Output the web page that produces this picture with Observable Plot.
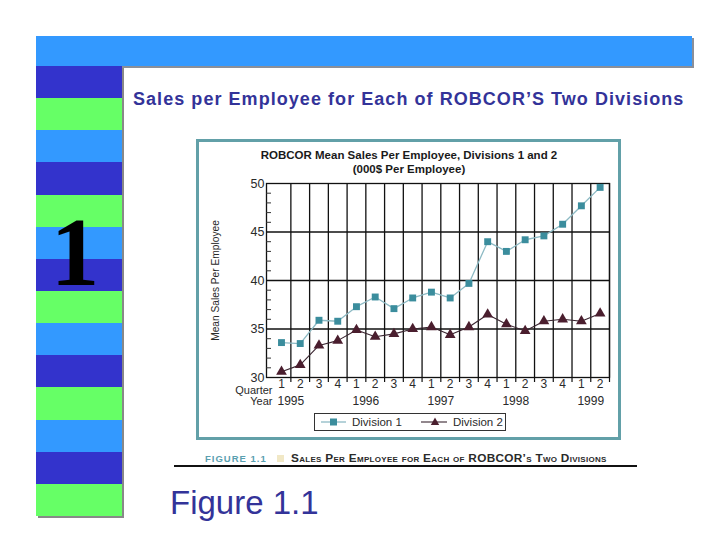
<!DOCTYPE html>
<html><head><meta charset="utf-8">
<script src="https://cdn.jsdelivr.net/npm/d3@7"></script>
<script src="https://cdn.jsdelivr.net/npm/@observablehq/plot@0.6"></script>
<style>
body{margin:0;width:720px;height:540px;background:#fff;position:relative;overflow:hidden;font-family:Arial,"Liberation Sans",sans-serif;}
.abs{position:absolute;}
</style></head><body>
<div class="abs" style="left:36px;top:36px;width:656px;height:30px;background:#3399ff;box-shadow:2px 2px 0 #8a8f99"></div>
<div id="stripes" class="abs" style="left:36px;top:66px;width:86px;height:450px;box-shadow:2px 2px 0 #888"></div>
<div class="abs" style="left:36px;top:203px;width:78px;text-align:center;font-family:'Liberation Serif','Times New Roman',serif;font-weight:bold;font-size:97px;line-height:100px;color:#000">1</div>
<div class="abs" style="left:133px;top:89px;font-size:18px;letter-spacing:1.05px;font-weight:bold;color:#333399;white-space:nowrap">Sales per Employee for Each of ROBCOR’S Two Divisions</div>
<div class="abs" style="left:196px;top:139px;width:425px;height:301px;border:3px solid #62a0a8;box-sizing:border-box;background:#fff"></div>
<div class="abs" style="left:197px;top:148px;width:424px;text-align:center;font-size:11.5px;line-height:14px;font-weight:bold;color:#1a1a1a">ROBCOR Mean Sales Per Employee, Divisions 1 and 2<br>(000$ Per Employee)</div>
<div id="chart" class="abs" style="left:200px;top:172px"></div>
<div id="legend" class="abs" style="left:314px;top:413px;width:192px;height:18px;border:1.5px solid #333;box-sizing:border-box;background:#fff"></div>
<div class="abs" style="left:205px;top:452px;white-space:nowrap;font-size:9.5px;line-height:12px;">
<span style="color:#5aa0b0;font-weight:bold;letter-spacing:1px">FIGURE 1.1</span>
<span style="display:inline-block;width:7px;height:7px;background:#f1e8c6;margin:0 4px 0 8px"></span>
<span style="font-weight:bold;color:#2a2a2a;font-variant:small-caps;font-size:11.8px;letter-spacing:0.3px">Sales Per Employee for Each of ROBCOR’s Two Divisions</span>
</div>
<div class="abs" style="left:174px;top:465px;width:463px;height:2px;background:#111"></div>
<div class="abs" style="left:170px;top:484px;font-size:33px;color:#333399;white-space:nowrap">Figure 1.1</div>
<script>
const stripeColors = ["#3333cc","#66ff66","#3399ff","#3333cc","#66ff66","#3399ff","#3333cc","#66ff66","#3399ff","#3333cc","#66ff66","#3399ff","#3333cc","#66ff66"];
const quarters = [1,2,3,4,1,2,3,4,1,2,3,4,1,2,3,4,1,2];
const years = ["1995","1996","1997","1998","1999"];
const yearStartIndex = [1,5,9,13,17];
const division1 = [33.6,33.5,35.9,35.8,37.3,38.3,37.1,38.2,38.8,38.2,39.7,44.0,43.0,44.2,44.6,45.8,47.7,49.6];
const division2 = [30.6,31.3,33.3,33.8,34.9,34.2,34.5,35.0,35.2,34.4,35.2,36.5,35.5,34.8,35.8,36.0,35.8,36.6];
const yTicks = [30,35,40,45,50];
const yGrid = [35,40,45];

const stripes = document.getElementById("stripes");
stripeColors.forEach(c => {
  const d = document.createElement("div");
  d.style.cssText = `height:${450/stripeColors.length}px;background:${c}`;
  stripes.appendChild(d);
});

const data = quarters.map((q, i) => ({i: i + 1, q, d1: division1[i], d2: division2[i]}));
const mids = quarters.map((q, i) => i + 1.5);
const minor = d3.range(30, 51).filter(v => v % 5 !== 0);
const yearData = years.map((y, k) => ({x: yearStartIndex[k] + 0.5, y}));
const c1 = "#3b8d9d", l1 = "#8dbac4", c2 = "#4a1e2e", l2 = "#3a2530";

const chart = Plot.plot({
  width: 418, height: 240,
  marginLeft: 66, marginRight: 9, marginTop: 11, marginBottom: 35,
  x: {domain: [0.2, 18.5], axis: null},
  y: {domain: [30, 50], axis: null},
  style: {fontFamily: "Arial, 'Liberation Sans', sans-serif", fontSize: "12px", color: "#2a2a2a", background: "transparent", overflow: "visible"},
  marks: [
    Plot.ruleX(mids, {x: d => d, y1: 30, y2: 50, stroke: "#111", strokeWidth: 1.3}),
    Plot.axisX({ticks: mids, tickSize: 5, text: null, stroke: "#111", strokeWidth: 1.2}),
    Plot.ruleY(yGrid, {stroke: "#111", strokeWidth: 1.3}),
    Plot.frame({stroke: "#111", strokeWidth: 1.3}),
    Plot.axisY({ticks: minor, tickSize: -5, text: null, stroke: "#333"}),
    Plot.axisY({ticks: yTicks, tickSize: 0, tickPadding: 2, fontSize: 12.5, tickFormat: d => d}),
    Plot.line(data, {x: "i", y: "d1", stroke: l1, strokeWidth: 1.3}),
    Plot.dot(data, {x: "i", y: "d1", symbol: "square", r: 3.9, fill: c1, stroke: "none"}),
    Plot.line(data, {x: "i", y: "d2", stroke: l2, strokeWidth: 1.1}),
    Plot.dot(data, {x: "i", y: "d2", symbol: "triangle", r: 4, fill: c2, stroke: "none"}),
    Plot.text(data, {x: "i", text: "q", frameAnchor: "bottom", dy: 10, fontSize: 12}),
    Plot.text(yearData, {x: "x", text: "y", frameAnchor: "bottom", dy: 27, fontSize: 12}),
    Plot.text(["Quarter"], {text: d => d, frameAnchor: "bottom-left", dx: 6, dy: 16, textAnchor: "end", fontSize: 11}),
    Plot.text(["Year"], {text: d => d, frameAnchor: "bottom-left", dx: 6, dy: 27, textAnchor: "end", fontSize: 11}),
    Plot.text(["Mean Sales Per Employee"], {text: d => d, frameAnchor: "left", textAnchor: "middle", dx: -51, rotate: -90, fontSize: 10.2})
  ]
});
document.getElementById("chart").appendChild(chart);

// legend
const legend = document.getElementById("legend");
legend.innerHTML = `<svg width="189" height="15" style="display:block" font-family="Arial, 'Liberation Sans', sans-serif" font-size="11.5" fill="#2a2a2a">
<line x1="6" x2="31" y1="8" y2="8" stroke="${l1}" stroke-width="1.3"/>
<rect x="15" y="4.5" width="7" height="7" fill="${c1}"/>
<text x="37" y="12">Division 1</text>
<line x1="106" x2="132" y1="8" y2="8" stroke="${l2}" stroke-width="1.1"/>
<path d="M120,3.5 L124.2,11 L115.8,11 Z" fill="${c2}"/>
<text x="138" y="12">Division 2</text>
</svg>`;
</script>
</body></html>
